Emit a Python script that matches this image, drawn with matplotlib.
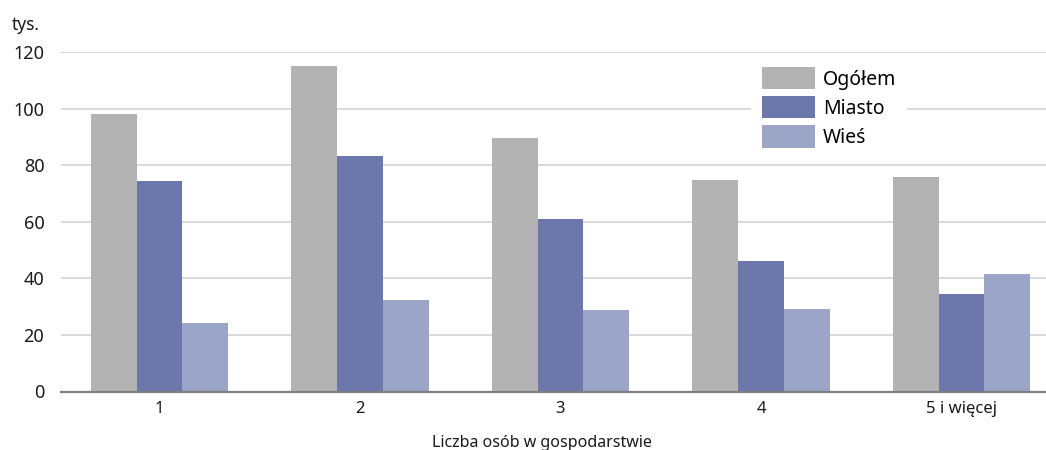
import matplotlib
matplotlib.use("Agg")
import matplotlib.pyplot as plt
import numpy as np

categories = ["1", "2", "3", "4", "5 i więcej"]
ogolem = [98.0, 115.0, 89.6, 74.7, 75.8]
miasto = [74.3, 83.2, 60.9, 46.0, 34.3]
wies = [24.1, 32.2, 28.7, 29.0, 41.5]
series_names = ["Ogółem", "Miasto", "Wieś"]
colors = ["#b3b3b3", "#6c77ab", "#9ba5c7"]
yticks = [0, 20, 40, 60, 80, 100, 120]

plt.rcParams['font.family'] = ['Noto Sans', 'DejaVu Sans']

W, H = 1046, 450
fig = plt.figure(figsize=(W / 100, H / 100), dpi=100)
ax = fig.add_axes([61 / W, 1 - 391.5 / H, (W - 61) / W, (391.5 - 52) / H])

x = np.arange(len(categories))
bw = 0.228
for i, (vals, name, c) in enumerate(zip([ogolem, miasto, wies], series_names, colors)):
    ax.bar(x + (i - 1) * bw, vals, width=bw, color=c, label=name, zorder=3)

ax.set_xlim(-0.491, 4.421)
ax.set_ylim(0, 120)
ax.set_yticks(yticks)
ax.set_xticks(x)
ax.set_xticklabels(categories)
ax.tick_params(axis='both', length=0, colors="#1a1a1a")
ax.tick_params(axis='y', pad=12, labelsize=13)
ax.tick_params(axis='x', pad=7, labelsize=12)
for s in ["top", "right", "left"]:
    ax.spines[s].set_visible(False)
ax.spines["bottom"].set_color("#7f7f7f")
ax.spines["bottom"].set_linewidth(1.6)
ax.spines["bottom"].set_zorder(4)
ax.grid(axis='y', color="#cfcfcf", linewidth=1.1, zorder=0)
ax.set_axisbelow(True)

fs = 14
fpx = fs * 100 / 72
leg = ax.legend(loc='upper left',
                bbox_to_anchor=((751 - 61) / (W - 61), 1 - (56 - 52) / (391.5 - 52)),
                frameon=True, fancybox=False, edgecolor='none', facecolor='white', framealpha=1,
                fontsize=fs, handlelength=53 / fpx, handleheight=27 / fpx,
                labelspacing=6.5 / fpx, handletextpad=8 / fpx, borderpad=11 / fpx,
                borderaxespad=0)
leg.set_zorder(5)

fig.text(12 / W, 1 - 30 / H, "tys.", fontsize=12.5, ha='left', va='baseline', color="#1a1a1a")
fig.text(542 / W, 1 - 447 / H, "Liczba osób w gospodarstwie", fontsize=11.5,
         ha='center', va='baseline', color="#1a1a1a")

fig.savefig("out.png", dpi=100)
